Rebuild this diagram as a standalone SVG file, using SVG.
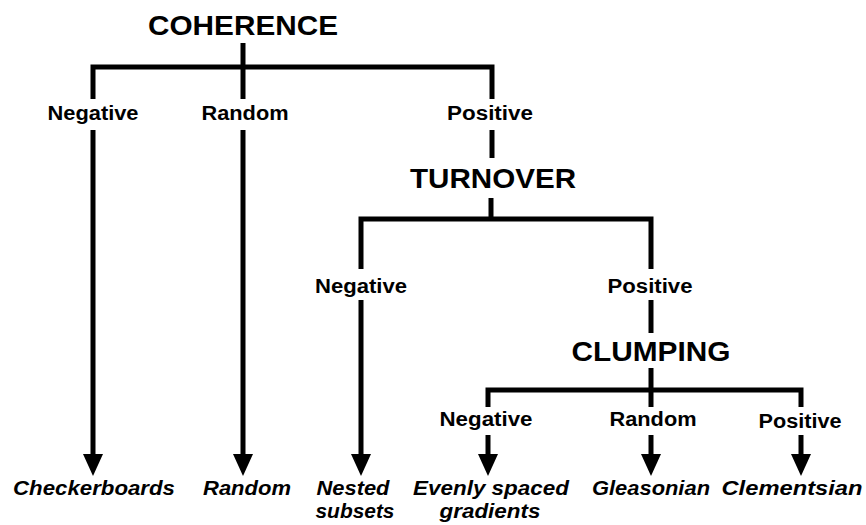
<svg xmlns="http://www.w3.org/2000/svg" width="866" height="525" viewBox="0 0 866 525">
<style>
.title{font-family:"Liberation Sans",Arial,sans-serif;font-weight:bold;font-size:28px;fill:#000;text-anchor:middle}
.lab{font-family:"Liberation Sans",Arial,sans-serif;font-weight:bold;font-size:20px;fill:#000;text-anchor:middle}
.leaf{font-family:"Liberation Sans",Arial,sans-serif;font-weight:bold;font-style:italic;font-size:20px;fill:#000;text-anchor:middle}
.ln{fill:none;stroke:#000;stroke-width:5;stroke-linejoin:miter;stroke-linecap:butt}
.ar{fill:none;stroke:#000;stroke-width:5;marker-end:url(#arrow)}
</style>
<defs>
<marker id="arrow" markerUnits="userSpaceOnUse" viewBox="0 0 22 20" refX="0" refY="10" markerWidth="22" markerHeight="20" orient="auto">
<path d="M0,0 L22,10 L0,20 z" fill="#000"/>
</marker>
</defs>
<rect width="866" height="525" fill="#fff"/>
<g id="connectors">
<path class="ln" d="M243,43 V67"/>
<path class="ln" d="M93,99 V67 H492 V99"/>
<path class="ln" d="M243,67 V99"/>
<path class="ar" d="M93,130 V454"/>
<path class="ar" d="M243,130 V454"/>
<path class="ln" d="M492,130 V158"/>
<path class="ln" d="M491,198 V219"/>
<path class="ln" d="M361,269 V219 H651 V269"/>
<path class="ar" d="M361,300 V454"/>
<path class="ln" d="M651,300 V333"/>
<path class="ln" d="M651,368 V390"/>
<path class="ln" d="M488,407 V390 H801 V407"/>
<path class="ln" d="M651,390 V407"/>
<path class="ar" d="M488,435 V454"/>
<path class="ar" d="M651,435 V454"/>
<path class="ar" d="M801,435 V454"/>
</g>
<g id="coherence"><text class="title" x="243" y="35" textLength="190" lengthAdjust="spacingAndGlyphs">COHERENCE</text></g>
<g id="coh-negative"><text class="lab" x="93" y="120" textLength="91" lengthAdjust="spacingAndGlyphs">Negative</text></g>
<g id="coh-random"><text class="lab" x="245" y="120" textLength="87" lengthAdjust="spacingAndGlyphs">Random</text></g>
<g id="coh-positive"><text class="lab" x="490" y="120" textLength="86" lengthAdjust="spacingAndGlyphs">Positive</text></g>
<g id="turnover"><text class="title" x="493" y="188" textLength="166" lengthAdjust="spacingAndGlyphs">TURNOVER</text></g>
<g id="turn-negative"><text class="lab" x="361" y="293" textLength="92" lengthAdjust="spacingAndGlyphs">Negative</text></g>
<g id="turn-positive"><text class="lab" x="650" y="293" textLength="85" lengthAdjust="spacingAndGlyphs">Positive</text></g>
<g id="clumping"><text class="title" x="651" y="361" textLength="159" lengthAdjust="spacingAndGlyphs">CLUMPING</text></g>
<g id="clump-negative"><text class="lab" x="486" y="426" textLength="93" lengthAdjust="spacingAndGlyphs">Negative</text></g>
<g id="clump-random"><text class="lab" x="653" y="426" textLength="87" lengthAdjust="spacingAndGlyphs">Random</text></g>
<g id="clump-positive"><text class="lab" x="800" y="428" textLength="83" lengthAdjust="spacingAndGlyphs">Positive</text></g>
<g id="checkerboards"><text class="leaf" x="94" y="495" textLength="162" lengthAdjust="spacingAndGlyphs">Checkerboards</text></g>
<g id="random"><text class="leaf" x="247" y="495" textLength="88" lengthAdjust="spacingAndGlyphs">Random</text></g>
<g id="nested-subsets"><text class="leaf" x="353" y="495" textLength="73" lengthAdjust="spacingAndGlyphs">Nested</text><text class="leaf" x="355" y="518" textLength="79" lengthAdjust="spacingAndGlyphs">subsets</text></g>
<g id="evenly-spaced-gradients"><text class="leaf" x="491" y="495" textLength="156" lengthAdjust="spacingAndGlyphs">Evenly spaced</text><text class="leaf" x="490" y="518" textLength="101" lengthAdjust="spacingAndGlyphs">gradients</text></g>
<g id="gleasonian"><text class="leaf" x="651" y="495" textLength="118" lengthAdjust="spacingAndGlyphs">Gleasonian</text></g>
<g id="clementsian"><text class="leaf" x="792" y="495" textLength="141" lengthAdjust="spacingAndGlyphs">Clementsian</text></g>
</svg>
